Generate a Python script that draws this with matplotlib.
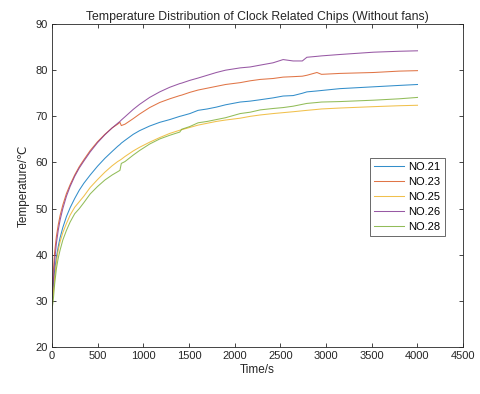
import matplotlib
matplotlib.use("Agg")
import matplotlib.pyplot as plt

plt.rcParams['font.family'] = ['Liberation Sans', 'DejaVu Sans', 'Noto Sans CJK SC']

# time (s) and temperature readings (deg C) per chip
t = [0, 15, 30, 50, 70, 90, 120, 160, 200, 250, 300, 350, 420, 500, 580, 660,
     720, 745, 760, 800, 890, 960, 1070, 1180, 1290, 1400, 1420, 1510, 1600,
     1700, 1800, 1900, 2060, 2170, 2280, 2420, 2530, 2640, 2740, 2790, 2900,
     2950, 3150, 3520, 3800, 4000]

no26 = [30.5, 34.0, 38.5, 42.5, 45.3, 47.5, 50.0, 52.7, 54.8, 57.0, 58.8, 60.3, 62.3, 64.3, 66.0, 67.5,
        68.5, 68.9, 69.2, 69.9, 71.5, 72.6, 74.1, 75.3, 76.3, 77.1, 77.2, 77.8, 78.3,
        78.9, 79.5, 80.0, 80.5, 80.7, 81.1, 81.6, 82.3, 82.0, 82.0, 82.8, 83.0,
        83.1, 83.4, 83.9, 84.1, 84.2]
no23 = [31.5, 36.0, 40.5, 44.0, 46.5, 48.5, 50.8, 53.3, 55.2, 57.3, 59.1, 60.6, 62.6, 64.5, 66.1, 67.5,
        68.3, 68.7, 68.0, 68.3, 69.5, 70.5, 71.9, 73.0, 73.8, 74.5, 74.6, 75.2, 75.7,
        76.1, 76.5, 76.9, 77.3, 77.7, 78.0, 78.2, 78.5, 78.6, 78.7, 78.9, 79.5,
        79.1, 79.3, 79.5, 79.8, 79.9]
no21 = [29.5, 33.0, 36.5, 39.5, 41.8, 43.7, 45.9, 48.3, 50.2, 52.2, 54.0, 55.5, 57.3, 59.2, 60.9, 62.4,
        63.5, 63.9, 64.2, 64.8, 66.1, 66.9, 67.9, 68.7, 69.3, 70.0, 70.1, 70.6, 71.3,
        71.6, 72.0, 72.5, 73.1, 73.3, 73.6, 74.0, 74.4, 74.5, 75.0, 75.3, 75.5,
        75.6, 76.0, 76.4, 76.7, 76.9]
no25 = [29.0, 31.5, 35.0, 38.5, 41.0, 42.8, 44.8, 46.8, 48.6, 50.3, 51.5, 52.7, 54.6, 56.3, 57.9, 59.3,
        60.2, 60.5, 60.7, 61.3, 62.5, 63.3, 64.4, 65.4, 66.3, 67.0, 67.1, 67.6, 68.1,
        68.5, 68.9, 69.2, 69.6, 70.0, 70.3, 70.6, 70.8, 71.0, 71.2, 71.3, 71.5,
        71.6, 71.8, 72.1, 72.3, 72.4]
no28 = [28.0, 30.0, 33.5, 37.0, 39.3, 41.0, 43.2, 45.3, 47.1, 48.9, 50.0, 51.3, 53.2, 54.8, 56.2, 57.3,
        58.0, 58.3, 59.8, 60.2, 61.6, 62.6, 64.0, 65.1, 65.9, 66.6, 67.2, 67.8, 68.6,
        68.9, 69.3, 69.7, 70.6, 70.9, 71.4, 71.7, 71.9, 72.2, 72.6, 72.8, 73.0,
        73.1, 73.2, 73.5, 73.8, 74.1]

series = [("NO.21", no21, (0.0, 0.447, 0.741)),
          ("NO.23", no23, (0.85, 0.325, 0.098)),
          ("NO.25", no25, (0.929, 0.694, 0.125)),
          ("NO.26", no26, (0.494, 0.184, 0.556)),
          ("NO.28", no28, (0.466, 0.674, 0.188))]

fig = plt.figure(figsize=(4.8, 3.94), dpi=100)
ax = fig.add_axes([0.108, 0.119, 0.857, 0.820])
for name, vals, col in series:
    ax.plot(t, vals, color=col, lw=0.75, alpha=0.8, label=name)

ax.set_xlim(0, 4500)
ax.set_ylim(20, 90)
ax.set_xticks(range(0, 4501, 500))
ax.set_yticks(range(20, 91, 10))
ax.tick_params(direction='in', top=True, right=True, length=3, width=0.6,
               labelsize=8, colors='#262626', pad=3)
for s in ax.spines.values():
    s.set_linewidth(0.6)
    s.set_color('#262626')
ax.set_title("Temperature Distribution of Clock Related Chips (Without fans)",
             fontsize=8.8, color='#262626', pad=3)
ax.set_xlabel("Time/s", fontsize=8.5, color='#262626', labelpad=2)
ax.set_ylabel("Temperature/\u2103", fontsize=8.5, color='#262626', labelpad=4)
leg = ax.legend(loc='upper left', bbox_to_anchor=(0.774, 0.585), fontsize=8,
                frameon=True, fancybox=False, edgecolor='#262626',
                handlelength=2.7, handletextpad=0.4, borderpad=0.35,
                labelspacing=0.45, borderaxespad=0)
leg.get_frame().set_linewidth(0.6)
fig.savefig("out.png", dpi=100)
